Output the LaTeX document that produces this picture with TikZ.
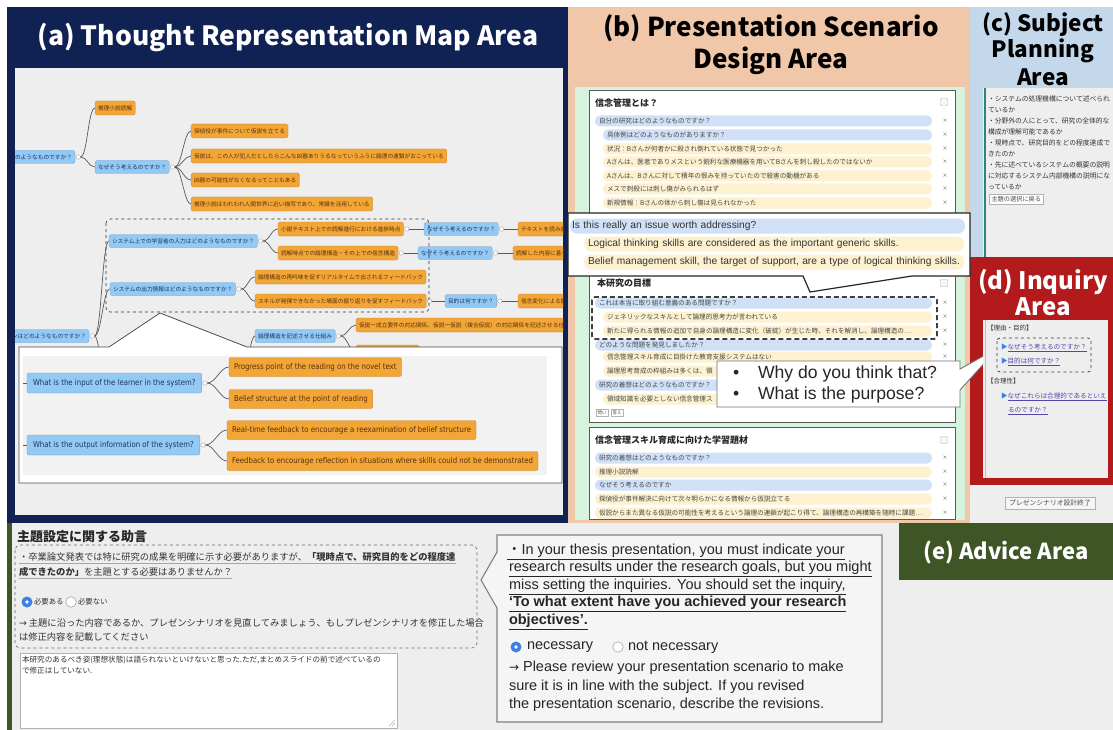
\documentclass[tikz,border=0pt]{standalone}
\usepackage{fontspec}
\setmainfont{Liberation Sans}
\newfontfamily\jp{Noto Sans CJK JP}
\newfontfamily\lib{Liberation Sans}
\newfontfamily\dv[FakeStretch=0.87]{DejaVu Sans}
\newfontfamily\dvs{DejaVu Sans}
\newcommand\setfs[1]{\fontsize{#1}{#1}\selectfont}
\definecolor{navy}{RGB}{16,34,84}
\definecolor{peach}{RGB}{240,199,168}
\definecolor{lgreen}{RGB}{213,243,221}
\definecolor{lblue}{RGB}{196,216,236}
\definecolor{redd}{RGB}{178,26,28}
\definecolor{dgreen}{RGB}{62,86,38}
\definecolor{bg}{RGB}{238,238,238}
\definecolor{mblue}{RGB}{146,201,245}
\definecolor{morange}{RGB}{242,166,56}
\definecolor{mbtxt}{RGB}{30,52,92}
\definecolor{motxt}{RGB}{92,48,6}
\definecolor{rblue}{RGB}{208,225,247}
\definecolor{ryel}{RGB}{253,241,207}
\definecolor{rtxt}{RGB}{70,70,70}
\definecolor{tealc}{RGB}{45,135,115}
\definecolor{linkc}{RGB}{85,70,170}
\definecolor{radioc}{RGB}{60,130,230}
\tikzset{
 every node/.style={inner sep=0pt, outer sep=0pt},
 ml/.style={draw=black!65, line width=0.7pt},
 brc/.style={to path={.. controls +(#1,0) and +(-#1,0) .. (\tikztotarget)}},
 brc/.default=7,
 tog/.style={circle, draw=gray!70, fill=white, minimum size=4.5pt, line width=0.4pt, anchor=west, xshift=1pt},
 mb/.style={fill=mblue, draw=mblue!80!black, line width=0.3pt, rounded corners=1.5pt, text=mbtxt, font=\jp\setfs{5.7}, inner xsep=3pt, inner ysep=0pt, minimum height=13pt, anchor=west},
 mo/.style={fill=morange, draw=morange!80!black, line width=0.3pt, rounded corners=1.5pt, text=motxt, font=\jp\setfs{5.7}, inner xsep=3pt, inner ysep=0pt, minimum height=14pt, anchor=west},
 mb2/.style={mb, font=\dv\setfs{8}, inner xsep=6pt, minimum height=20pt, rounded corners=2pt},
 mo2/.style={mo, font=\dv\setfs{8}, inner xsep=5pt, minimum height=19pt, rounded corners=2pt},
 rw/.style={rounded corners=5pt, anchor=west, inner xsep=4pt, inner ysep=0pt, minimum height=11pt, font=\jp\setfs{6.6}, text=rtxt, align=left},
 rbw/.style={rw, fill=rblue, text width=329pt},
 ryw/.style={rw, fill=ryel, text width=329pt},
 rbi/.style={rw, fill=rblue, text width=321pt},
 ryi/.style={rw, fill=ryel, text width=321pt},
 xm/.style={font=\jp\setfs{5}, text=black!70},
 hd/.style={anchor=west, font=\jp\bfseries\setfs{9}, text=black!85},
 hbtn/.style={draw=gray!60, fill=gray!6, minimum size=7pt, rounded corners=1pt, line width=0.4pt},
 sbtn/.style={draw=gray!60, fill=white, font=\jp\setfs{4.5}, inner xsep=1.5pt, inner ysep=1.5pt, anchor=west, text=black!70, line width=0.4pt},
 bx/.style={fill=white, draw=gray!70!black, line width=0.6pt},
 qb/.style={fill=rblue, rounded corners=7pt, anchor=west, inner xsep=2pt, inner ysep=0pt, minimum height=15pt, font=\lib\setfs{10.2}, text=black!80, text width=391pt, align=left},
 qy/.style={qb, fill=ryel, inner xsep=4pt, text width=372pt},
 ct/.style={anchor=west, font=\lib\setfs{14.5}, text=black!85},
 jt/.style={anchor=west, font=\jp\setfs{9.3}, text=black!80},
 ctx/.style={anchor=west, font=\jp\setfs{6.8}, text=black!80},
 dtx/.style={anchor=west, font=\jp\setfs{6.5}, text=black!80},
 lk/.style={anchor=west, font=\jp\setfs{6.6}, text=linkc},
 ron/.style={circle, fill=radioc, minimum size=11pt},
 rdot/.style={circle, fill=white, minimum size=3.6pt},
 roff/.style={circle, draw=gray!70, fill=white, minimum size=10.5pt, line width=0.6pt},
 ttl/.style={font=\jp\bfseries\setfs{#1}},
 ul/.style={draw=gray!70, line width=0.5pt}
}
\begin{document}
\begin{tikzpicture}[x=1pt,y=-1pt]
\useasboundingbox (0,0) rectangle (1113,730);
\fill[white] (0,0) rectangle (1113,730);
% ---------- panels
\fill[navy] (7,7) rectangle (568,523);
\fill[peach] (568,7) rectangle (970,523);
\fill[lblue] (970,7) rectangle (1113,257);
\fill[redd] (970,257) rectangle (1113,485);
\fill[bg] (970,485) rectangle (1113,523);
\fill[bg] (7,523) rectangle (1113,730);
\fill[dgreen] (7,523) rectangle (12,730);
% ---------- titles
\node[ttl=26.5, text=white] (ta) at (288,38) {(a) Thought Representation Map Area};
\node[ttl=26, text=black] (tb1) at (771,28) {(b) Presentation Scenario};
\node[ttl=26, text=black] (tb2) at (771,61) {Design Area};
\node[ttl=22.5, text=black] (tc1) at (1043,25) {(c) Subject};
\node[ttl=22.5, text=black] (tc2) at (1043,51) {Planning};
\node[ttl=22.5, text=black] (tc3) at (1043,77) {Area};
\node[ttl=24, text=white] (td1) at (1043,282) {(d) Inquiry};
\node[ttl=24, text=white] (td2) at (1043,307) {Area};
% ---------- (a) map
\fill[bg] (15,68) rectangle (563,515);
\begin{scope}
\clip (15,68) rectangle (563,515);
\node[mb, anchor=east] (a0) at (75,157) {のようなものですか？};
\node[tog] (a0t) at (a0.east) {};
\node[mo] (a1) at (95,108) {推理小説読解};
\node[mb] (a2) at (95,167) {なぜそう考えるのですか？};
\node[tog] (a2t) at (a2.east) {};
\node[mo] (a3) at (191,131) {探偵役が事件について仮説を立てる};
\node[mo] (a4) at (191,156) {仮説は、この人が犯人だとしたらこんな凶器ありうるなっていうふうに論理の連鎖がおこっている};
\node[mo] (a5) at (191,180) {凶器の可能性がなくなるってこともある};
\node[mo] (a6) at (191,204) {推理小説はわれわれ人間世界に近い描写であり、常識を活用している};
\draw[ml] (a0t.east) to[brc] (a1.west);
\draw[ml] (a0t.east) to[brc] (a2.west);
\foreach \c in {a3,a4,a5,a6} \draw[ml] (a2t.east) to[brc] (\c.west);
\node[mb, anchor=east] (b0) at (89,336) {ンはどのようなものですか？};
\node[tog] (b0t) at (b0.east) {};
\node[mb] (b1) at (109,241) {システム上での学習者の入力はどのようなものですか？};
\node[tog] (b1t) at (b1.east) {};
\node[mb] (b2) at (110,289) {システムの出力情報はどのようなものですか？};
\node[tog] (b2t) at (b2.east) {};
\coordinate (bdn) at (109,420);
\draw[ml] (b0t.east) to[brc] (b1.west);
\draw[ml] (b0t.east) to[brc] (b2.west);
\draw[ml] (b0t.east) to[brc] (bdn);
\node[mo] (b3) at (278,229) {小説テキスト上での読解進行における進捗時点};
\node[tog] (b3t) at (b3.east) {};
\node[mo] (b4) at (278,253) {読解時点での論理構造・その上での信念構造};
\node[tog] (b4t) at (b4.east) {};
\node[mo] (b5) at (255,277) {論理構造の再吟味を促すリアルタイムで出されるフィードバック};
\node[mo] (b6) at (255,301) {スキルが発揮できなかった場面の振り返りを促すフィードバック};
\node[tog] (b6t) at (b6.east) {};
\draw[ml] (b1t.east) to[brc] (b3.west);
\draw[ml] (b1t.east) to[brc] (b4.west);
\draw[ml] (b2t.east) to[brc] (b5.west);
\draw[ml] (b2t.east) to[brc] (b6.west);
\node[mb] (c1) at (424,229) {なぜそう考えるのですか？};
\node[tog] (c1t) at (c1.east) {};
\node[mb] (c2) at (418,253) {なぜそう考えるのですか？};
\node[tog] (c2t) at (c2.east) {};
\node[mb] (c3) at (445,301) {目的は何ですか？};
\node[tog] (c3t) at (c3.east) {};
\draw[ml] (b3t.east) to[brc] (c1.west);
\draw[ml] (b4t.east) to[brc] (c2.west);
\draw[ml] (b6t.east) to[brc] (c3.west);
\node[mo] (d1) at (518,229) {テキストを読み進める};
\node[mo] (d2) at (513,253) {読解した内容に基づく};
\node[mo] (d3) at (518,301) {信念変化による振り返り};
\draw[ml] (c1t.east) to[brc] (d1.west);
\draw[ml] (c2t.east) to[brc] (d2.west);
\draw[ml] (c3t.east) to[brc] (d3.west);
\node[mb] (e1) at (255,336) {論理構造を記述させる仕組み};
\node[tog] (e1t) at (e1.east) {};
\node[mo] (e2) at (356,325) {仮説ー成立要件の対応関係、仮説ー仮説（複合仮説）の対応関係を記述させる仕組み};
\node[mo] (e3) at (356,352) {成立要件を記述させる};
\coordinate (eup) at (240,400);
\draw[ml] (eup) to[brc] (e1.west);
\draw[ml] (e1t.east) to[brc] (e2.west);
\draw[ml] (e1t.east) to[brc] (e3.west);
\draw[dashed, line width=0.6pt, black!80, rounded corners=4pt] (106,219) rectangle (429,312);
\end{scope}
% zoom overlay
\draw[fill=white, draw=black!70, line width=0.8pt] (19,347) -- (109,347) -- (160,313) -- (247,347) -- (562,347) -- (562,483) -- (19,483) -- cycle;
\fill[bg!75!white] (23,356) rectangle (547,475);
\node[mb2] (f1) at (27,383) {What is the input of the learner in the system?};
\node[tog] (f1t) at (f1.east) {};
\node[mo2] (f2) at (229,367) {Progress point of the reading on the novel text};
\node[mo2] (f3) at (229,399) {Belief structure at the point of reading};
\node[mb2] (f4) at (27,445) {What is the output information of the system?};
\node[tog] (f4t) at (f4.east) {};
\node[mo2] (f5) at (227,430) {Real-time feedback to encourage a reexamination of belief structure};
\node[mo2] (f6) at (227,461) {Feedback to encourage reflection in situations where skills could not be demonstrated};
\coordinate (f1s) at (23,383);
\coordinate (f4s) at (23,445);
\draw[ml] (f1s) -- (f1.west);
\draw[ml] (f4s) -- (f4.west);
\draw[ml] (f1t.east) to[brc=9] (f2.west);
\draw[ml] (f1t.east) to[brc=9] (f3.west);
\draw[ml] (f4t.east) to[brc=9] (f5.west);
\draw[ml] (f4t.east) to[brc=9] (f6.west);
% ---------- (b) scenario
\fill[lgreen] (575,87) rectangle (965,520);
\draw[bx] (589,90) rectangle (955,232);
\draw[bx] (589,238) rectangle (955,422);
\draw[bx] (589,427) rectangle (955,519);
\node[hd] (h1) at (595,103) {信念管理とは？};
\node[hbtn] (hb1) at (944,102) {};
\node[rbw] (r11) at (595,121) {自分の研究はどのようなものですか？};
\node[rbi] (r12) at (603,135) {具体例はどのようなものがありますか？};
\node[ryi] (r13) at (603,149) {状況：Bさんが何者かに殺され倒れている状態で見つかった};
\node[ryi] (r14) at (603,162) {Aさんは、医者でありメスという鋭利な医療機器を用いてBさんを刺し殺したのではないか};
\node[ryi] (r15) at (603,176) {Aさんは、Bさんに対して積年の恨みを持っていたので殺害の動機がある};
\node[ryi] (r16) at (603,189) {メスで刺殺には刺し傷がみられるはず};
\node[ryi] (r17) at (603,203) {新規情報：Bさんの体から刺し傷は見られなかった};
\foreach \yy [count=\i] in {121,135,149,162,176,189,203} \node[xm] (xa\i) at (945,\yy) {×};
\node[hd] (h2) at (597,283) {本研究の目標};
\node[hbtn] (hb2) at (944,283) {};
\node[rbw] (r21) at (595,303) {これは本当に取り組む意義のある問題ですか？};
\node[ryi] (r22) at (603,317) {ジェネリックなスキルとして論理的思考力が言われている};
\node[ryi] (r23) at (603,331) {新たに得られる情報の追加で自身の論理構造に変化（破綻）が生じた時、それを解消し、論理構造の…};
\node[rbw] (r24) at (595,345) {どのような問題を発見しましたか？};
\node[ryi] (r25) at (603,357) {信念管理スキル育成に目掛けた教育支援システムはない};
\node[ryi] (r26) at (603,371) {論理思考育成の枠組みは多くは、領};
\node[rbw] (r27) at (595,385) {研究の着想はどのようなものですか？};
\node[ryi] (r28) at (603,399) {領域知識を必要としない信念管理ス};
\foreach \yy [count=\i] in {303,317,331,345,357,371,385,399} \node[xm] (xb\i) at (945,\yy) {×};
\node[sbtn] (bt1) at (596,413) {問い};
\node[sbtn] (bt2) at (611,413) {答え};
\draw[line width=1.8pt, dash pattern=on 5pt off 3pt, black!75, rounded corners=3pt] (592,297) rectangle (937,339);
\node[hd] (h3) at (595,440) {信念管理スキル育成に向けた学習題材};
\node[hbtn] (hb3) at (944,440) {};
\node[rbw] (r31) at (595,458) {研究の着想はどのようなものですか？};
\node[ryw] (r32) at (595,472) {推理小説読解};
\node[rbw] (r33) at (595,485) {なぜそう考えるのですか};
\node[ryw] (r34) at (595,499) {探偵役が事件解決に向けて次々明らかになる情報から仮説立てる};
\node[ryw] (r35) at (595,513) {仮説からまた異なる仮説の可能性を考えるという論理の連鎖が起こり得て、論理構造の再構築を随時に課題…};
\foreach \yy [count=\i] in {458,472,485,499,513} \node[xm] (xc\i) at (945,\yy) {×};
% callout 1
\draw[fill=white, draw=black!85, line width=1.2pt] (568,213) -- (970,213) -- (970,276) -- (912,276) -- (810,292) -- (803,276) -- (568,276) -- cycle;
\node[qb] (q1) at (570,226) {Is this really an issue worth addressing?};
\node[qy] (q2) at (584,244) {Logical thinking skills are considered as the important generic skills.};
\node[qy] (q3) at (584,262) {Belief management skill, the target of support, are a type of logical thinking skills.};
% callout 2
\draw[fill=white, draw=black!55, line width=0.9pt] (717,361) -- (960,361) -- (960,369) -- (998,348) -- (960,390) -- (960,407) -- (717,407) -- cycle;
\node[anchor=west, font=\lib\setfs{17.6}, text=black!85] (w1b) at (733,374) {•};
\node[anchor=west, font=\lib\setfs{17.6}, text=black!85] (w1) at (758,374) {Why do you think that?};
\node[anchor=west, font=\lib\setfs{17.6}, text=black!85] (w2b) at (733,395) {•};
\node[anchor=west, font=\lib\setfs{17.6}, text=black!85] (w2) at (758,395) {What is the purpose?};
% ---------- (c)
\fill[bg] (983,88) rectangle (1113,257);
\draw[tealc, line width=1.5pt] (985,88) -- (985,257);
\foreach \t [count=\i] in {{・システムの処理機構について述べられ},{ているか},{・分野外の人にとって、研究の全体的な},{構成が理解可能であるか},{・現時点で、研究目的をどの程度達成で},{きたのか},{・先に述べているシステムの概要の説明},{に対応するシステム内部機構の説明にな},{っているか}}
  \node[ctx] (cl\i) at (988,88+11*\i) {\t};
\node[sbtn, font=\jp\setfs{6.2}, inner xsep=2.5pt, inner ysep=2pt] (cbt) at (989,199) {主題の選択に戻る};
% ---------- (d)
\fill[bg] (983,320) rectangle (1108,478);
\draw[gray!50, line width=1pt] (985,320) -- (985,478);
\node[dtx] (dd1) at (987,328) {【理由・目的】};
\draw[dashed, black!75, rounded corners=3pt, line width=0.8pt] (997,338) rectangle (1091,372);
\node[lk] (dd2) at (1001,348) {{\color{radioc}▶}\underline{なぜそう考えるのですか？}};
\node[lk] (dd3) at (1001,362) {{\color{radioc}▶}\underline{目的は何ですか？}};
\node[dtx] (dd4) at (987,381) {【合理性】};
\node[lk] (dd5) at (1001,397) {{\color{radioc}▶}\underline{なぜこれらは合理的であるといえ}};
\node[lk] (dd6) at (1008,411) {\underline{るのですか？}};
\node[sbtn, font=\jp\setfs{6.8}, inner xsep=4pt, inner ysep=3pt, anchor=center, fill=bg!50!white] (fin) at (1050,503) {プレゼンシナリオ設計終了};
% ---------- (e) advice
\fill[dgreen] (899,523) rectangle (1113,580);
\node[ttl=22, text=white] (te) at (1006,552) {(e) Advice Area};
\node[anchor=west, font=\jp\bfseries\setfs{13}, text=black!85] (eh) at (17,537) {主題設定に関する助言};
\draw[dashed, black!60, rounded corners=5pt, line width=0.6pt] (15,545) rectangle (477,648);
\node[jt] (el1) at (19,557) {・卒業論文発表では特に研究の成果を明確に示す必要がありますが、{\bfseries「現時点で、研究目的をどの程度達}};
\node[jt] (el2) at (19,572) {{\bfseries 成できたのか」}を主題とする必要はありませんか？};
\draw[ul] ([yshift=-1.5pt]el1.south west) -- ([yshift=-1.5pt]el1.south east);
\draw[ul] ([yshift=-1.5pt]el2.south west) -- ([yshift=-1.5pt]el2.south east);
\node[ron] (er1) at (27,602) {};
\node[rdot] (er1d) at (er1.center) {};
\node[jt, font=\jp\setfs{7.4}] (er1t) at (34,602) {必要ある};
\node[roff] (er2) at (71,602) {};
\node[jt, font=\jp\setfs{7.4}] (er2t) at (78,602) {必要ない};
\node[jt] (el3) at (19,623) {{\dvs →} 主題に沿った内容であるか、プレゼンシナリオを見直してみましょう、もしプレゼンシナリオを修正した場合};
\node[jt] (el4) at (19,637) {は修正内容を記載してください};
\draw[fill=white, draw=gray!60, line width=0.6pt] (20,653) rectangle (397,728);
\draw[gray!60, line width=0.4pt] (389,726) -- (395,720) (392,726) -- (395,723);
\node[jt, font=\jp\setfs{7.6}] (ea1) at (22,660) {本研究のあるべき姿(理想状態)は語られないといけないと思った.ただ,まとめスライドの前で述べているの};
\node[jt, font=\jp\setfs{7.6}] (ea2) at (22,671) {で修正はしていない.};
% callout (e)
\draw[fill=bg!60!white, draw=black!50, line width=1.1pt] (497,535) -- (882,535) -- (882,722) -- (497,722) -- (497,608) -- (481,580) -- (497,552) -- cycle;
\node[ct] (e1) at (507,552) {\underline{{\jp ・}In your thesis presentation, you must indicate your}};
\node[ct] (e2) at (509,569) {\underline{research results under the research goals, but you might}};
\node[ct] (e3) at (509,587) {\underline{miss setting the inquiries. You should set the inquiry,}};
\node[ct, font=\lib\bfseries\setfs{14.5}] (e4) at (509,604) {\underline{‘To what extent have you achieved your research}};
\node[ct, font=\lib\bfseries\setfs{14.5}] (e5) at (509,622) {\underline{objectives’.}};
\node[ron] (eo1) at (516,647) {};
\node[rdot] (eo1d) at (eo1.center) {};
\node[ct] (e6) at (527,647) {necessary};
\node[roff] (eo2) at (618,647) {};
\node[ct] (e7) at (628,647) {not necessary};
\node[ct] (e8) at (509,668) {{\dvs\setfs{12}→} Please review your presentation scenario to make};
\node[ct] (e9) at (509,687) {sure it is in line with the subject. If you revised};
\node[ct] (e10) at (509,705) {the presentation scenario, describe the revisions.};
\end{tikzpicture}
\end{document}
